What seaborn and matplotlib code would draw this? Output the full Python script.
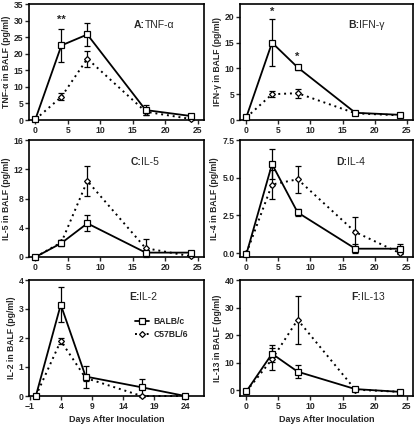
import matplotlib
matplotlib.use("Agg")

import numpy as np
import seaborn as sns
import matplotlib.pyplot as plt


# =========================
# 1. Data
# =========================

days = [0, 4, 8, 17, 24]

tnf_balb = [0.3, 22.5, 25.8, 3.0, 1.2]
tnf_balb_sem = [0.3, 5.0, 3.5, 1.5, 0.3]
tnf_c57 = [0.2, 7.0, 18.5, 2.5, 0.3]
tnf_c57_sem = [0.2, 1.0, 2.4, 1.0, 0.2]

ifn_balb = [0.6, 15.0, 10.2, 1.4, 1.0]
ifn_balb_sem = [0.2, 4.6, 0.5, 0.3, 0.2]
ifn_c57 = [0.5, 5.0, 5.2, 1.3, 0.9]
ifn_c57_sem = [0.2, 0.6, 0.9, 0.2, 0.2]

il5_balb = [0.0, 1.9, 4.6, 0.6, 0.6]
il5_balb_sem = [0.05, 0.4, 1.1, 0.3, 0.1]
il5_c57 = [0.0, 2.0, 10.4, 1.2, 0.1]
il5_c57_sem = [0.05, 0.3, 2.1, 1.2, 0.1]

il4_balb = [-0.05, 5.9, 2.7, 0.3, 0.3]
il4_balb_sem = [0.05, 1.0, 0.25, 0.3, 0.3]
il4_c57 = [0.0, 4.55, 4.9, 1.4, 0.0]
il4_c57_sem = [0.05, 0.95, 0.9, 1.0, 0.05]

il2_balb = [0.0, 3.15, 0.67, 0.3, 0.0]
il2_balb_sem = [0.02, 0.6, 0.38, 0.3, 0.02]
il2_c57 = [0.0, 1.9, 0.62, 0.0, 0.0]
il2_c57_sem = [0.02, 0.1, 0.1, 0.02, 0.02]

il13_balb = [-0.3, 13.3, 6.8, 0.5, -0.5]
il13_balb_sem = [0.3, 3.0, 2.4, 0.5, 0.3]
il13_c57 = [-0.3, 11.3, 25.6, 0.3, -0.5]
il13_c57_sem = [0.3, 4.0, 8.7, 0.3, 0.3]

panel_letters = ["A", "B", "C", "D", "E", "F"]
panel_names = ["TNF-α", "IFN-γ", "IL-5", "IL-4", "IL-2", "IL-13"]
ylabels = ["TNF-α in BALF (pg/ml)", "IFN-γ in BALF (pg/ml)",
           "IL-5 in BALF (pg/ml)", "IL-4 in BALF (pg/ml)",
           "IL-2 in BALF (pg/ml)", "IL-13 in BALF (pg/ml)"]
yticks = [[0, 5, 10, 15, 20, 25, 30, 35], [0, 5, 10, 15, 20],
          [0, 4, 8, 12, 16], [0.0, 2.5, 5.0, 7.5],
          [0, 1, 2, 3, 4], [0, 10, 20, 30, 40]]
ylims = [(0, 35), (0, 22.5), (0, 16), (-0.25, 7.5), (0, 4), (-2, 40)]

# significance marks: (panel, day, y, text)
stars = [(0, 4, 28.8, "**"), (1, 4, 20.0, "*"), (1, 8, 11.2, "*")]

series = [
    (tnf_balb, tnf_balb_sem, tnf_c57, tnf_c57_sem),
    (ifn_balb, ifn_balb_sem, ifn_c57, ifn_c57_sem),
    (il5_balb, il5_balb_sem, il5_c57, il5_c57_sem),
    (il4_balb, il4_balb_sem, il4_c57, il4_c57_sem),
    (il2_balb, il2_balb_sem, il2_c57, il2_c57_sem),
    (il13_balb, il13_balb_sem, il13_c57, il13_c57_sem),
]


# =========================
# 2. Style
# =========================

sns.set_theme(style="ticks")
plt.rcParams["font.family"] = ["Liberation Sans", "DejaVu Sans"]
plt.rcParams["font.weight"] = "bold"
plt.rcParams["axes.labelweight"] = "bold"

fig = plt.figure(figsize=(4.15, 4.25), dpi=100)

W, H = 415, 425
col_x = [(29, 204), (240, 413)]
row_y = [(4, 120), (140, 257), (280, 396)]


# =========================
# 3. Panels
# =========================

for i in range(6):
    r, c = divmod(i, 2)
    x0, x1 = col_x[c]
    y0, y1 = row_y[r]
    ax = fig.add_axes([x0 / W, 1 - y1 / H, (x1 - x0) / W, (y1 - y0) / H])

    balb, balb_sem, c57, c57_sem = series[i]

    ax.errorbar(days, c57, yerr=c57_sem, fmt="none", ecolor="black",
                elinewidth=0.9, capsize=2.5, capthick=0.9, zorder=2)
    ax.errorbar(days, balb, yerr=balb_sem, fmt="none", ecolor="black",
                elinewidth=0.9, capsize=2.5, capthick=0.9, zorder=2)

    sns.lineplot(x=days, y=c57, ax=ax, color="black", linewidth=1.4,
                 linestyle=(0, (1, 2)), marker="D", markersize=3,
                 markerfacecolor="white", markeredgecolor="black",
                 markeredgewidth=0.9, label="C57BL/6", zorder=3)
    sns.lineplot(x=days, y=balb, ax=ax, color="black", linewidth=1.3,
                 linestyle="-", marker="s", markersize=4,
                 markerfacecolor="white", markeredgecolor="black",
                 markeredgewidth=0.9, label="BALB/c", zorder=4)
    for ln in ax.lines:
        ln.set_clip_on(False)

    if i == 4:
        ax.set_xlim(-1.1, 27)
        ax.set_xticks([-1, 4, 9, 14, 19, 24])
        handles, labels = ax.get_legend_handles_labels()
        ax.legend(handles[::-1], labels[::-1], loc="upper left",
                  bbox_to_anchor=(0.56, 0.75), frameon=False,
                  handlelength=1.6, handletextpad=0.6,
                  labelspacing=0.5, prop={"weight": "bold", "size": 6.2})
    else:
        ax.set_xlim(-1, 26)
        ax.set_xticks([0, 5, 10, 15, 20, 25])
        ax.get_legend().remove()

    ax.set_ylim(*ylims[i])
    ax.set_yticks(yticks[i])
    if i == 3:
        ax.set_yticklabels(["0.0", "2.5", "5.0", "7.5"])

    ax.set_ylabel(ylabels[i], fontsize=6.2, labelpad=2)
    if r == 2:
        ax.set_xlabel("Days After Inoculation", fontsize=6.5, labelpad=3)

    ax.tick_params(direction="out", length=3, width=1, labelsize=6.2,
                   pad=1)
    for sp in ax.spines.values():
        sp.set_linewidth(1.2)
        sp.set_color("black")

    tx = [0.66, 0.69, 0.64, 0.62, 0.63, 0.70][i]
    ty = [0.82, 0.82, 0.81, 0.81, 0.85, 0.85][i]
    ax.text(tx, ty, panel_letters[i] + ":", transform=ax.transAxes,
            fontsize=7.5, fontweight="bold", ha="right", va="center")
    ax.text(tx, ty, panel_names[i], transform=ax.transAxes,
            fontsize=7.5, fontweight="normal", ha="left", va="center")

    for p, d, yv, s in stars:
        if p == i:
            ax.text(d, yv, s, ha="center", va="bottom", fontsize=8,
                    fontweight="bold")

fig.savefig("out.png", dpi=100)
